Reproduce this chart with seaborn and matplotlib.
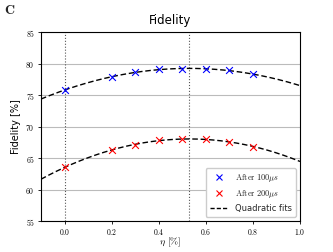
import numpy as np
import matplotlib
matplotlib.use('Agg')
import matplotlib.pyplot as plt
import seaborn as sns

eta = [0.0, 0.2, 0.3, 0.4, 0.5, 0.6, 0.7, 0.8]
fid_100us = [75.8, 77.85, 78.6, 79.05, 79.2, 79.15, 78.9, 78.3]
fid_200us = [63.55, 66.2, 67.1, 67.8, 68.05, 68.0, 67.55, 66.8]
vlines = [0.0, 0.53]
y_ticks = [55, 60, 65, 70, 75, 80, 85]
x_ticks = [0.0, 0.2, 0.4, 0.6, 0.8, 1.0]

sns.set_theme(style='whitegrid')
plt.rcParams['mathtext.fontset'] = 'cm'
plt.rcParams['font.family'] = ['DejaVu Sans']
plt.rcParams['axes.unicode_minus'] = False

fig = plt.figure(figsize=(3.33, 2.52), dpi=100)
ax = fig.add_axes([0.123, 0.123, 0.778, 0.750])

xfit = np.linspace(-0.1, 1.0, 200)
for vals in [fid_100us, fid_200us]:
    coef = np.polyfit(eta, vals, 2)
    sns.lineplot(x=xfit, y=np.polyval(coef, xfit), ax=ax, color='black', lw=1.0,
                 linestyle=(0, (4, 2)), zorder=3)

sns.scatterplot(x=eta, y=fid_100us, ax=ax, marker='x', color='blue', s=24, linewidth=0.8, zorder=4)
sns.scatterplot(x=eta, y=fid_200us, ax=ax, marker='x', color='red', s=24, linewidth=0.8, zorder=4)

for v in vlines:
    ax.axvline(v, color='#555555', linestyle=':', lw=0.8, zorder=2)

ax.set_xlim(-0.1, 1.0)
ax.set_ylim(55, 85)
ax.set_xticks(x_ticks)
ax.set_yticks(y_ticks)
ax.set_xticklabels([f'${t:.1f}$' for t in x_ticks])
ax.set_yticklabels([f'${t}$' for t in y_ticks])
ax.tick_params(labelsize=5.5, length=2.5, width=0.6, pad=2, colors='black', bottom=True, left=True)
ax.grid(axis='x', visible=False)
ax.grid(axis='y', color='#bbbbbb', lw=0.8)
for sp in ax.spines.values():
    sp.set_color('black')
    sp.set_linewidth(0.8)

ax.set_title('Fidelity', fontsize=8.5, pad=6, color='black')
ax.set_ylabel('Fidelity [%]', fontsize=7, labelpad=3, color='black')
ax.set_xlabel(r'$\eta$ [%]', fontsize=7, fontfamily='cmr10', color='black')
ax.xaxis.set_label_coords(0.5, -0.08)

handles = [
    plt.Line2D([], [], marker='x', color='blue', linestyle='none', markersize=4.5, markeredgewidth=0.8),
    plt.Line2D([], [], marker='x', color='red', linestyle='none', markersize=4.5, markeredgewidth=0.8),
    plt.Line2D([], [], color='black', linestyle=(0, (3, 1.5)), lw=1.0),
]
labels = [r'$\mathrm{After}\ 100\mu s$', r'$\mathrm{After}\ 200\mu s$', 'Quadratic fits']
ax.legend(handles, labels, loc='lower right', fontsize=6, frameon=True, handlelength=2.2,
          borderpad=0.5, labelspacing=0.45, framealpha=1, edgecolor='#cccccc')

fig.text(0.012, 0.945, r'$\mathbf{C}$', fontsize=10)

fig.savefig('out.png', dpi=100)
